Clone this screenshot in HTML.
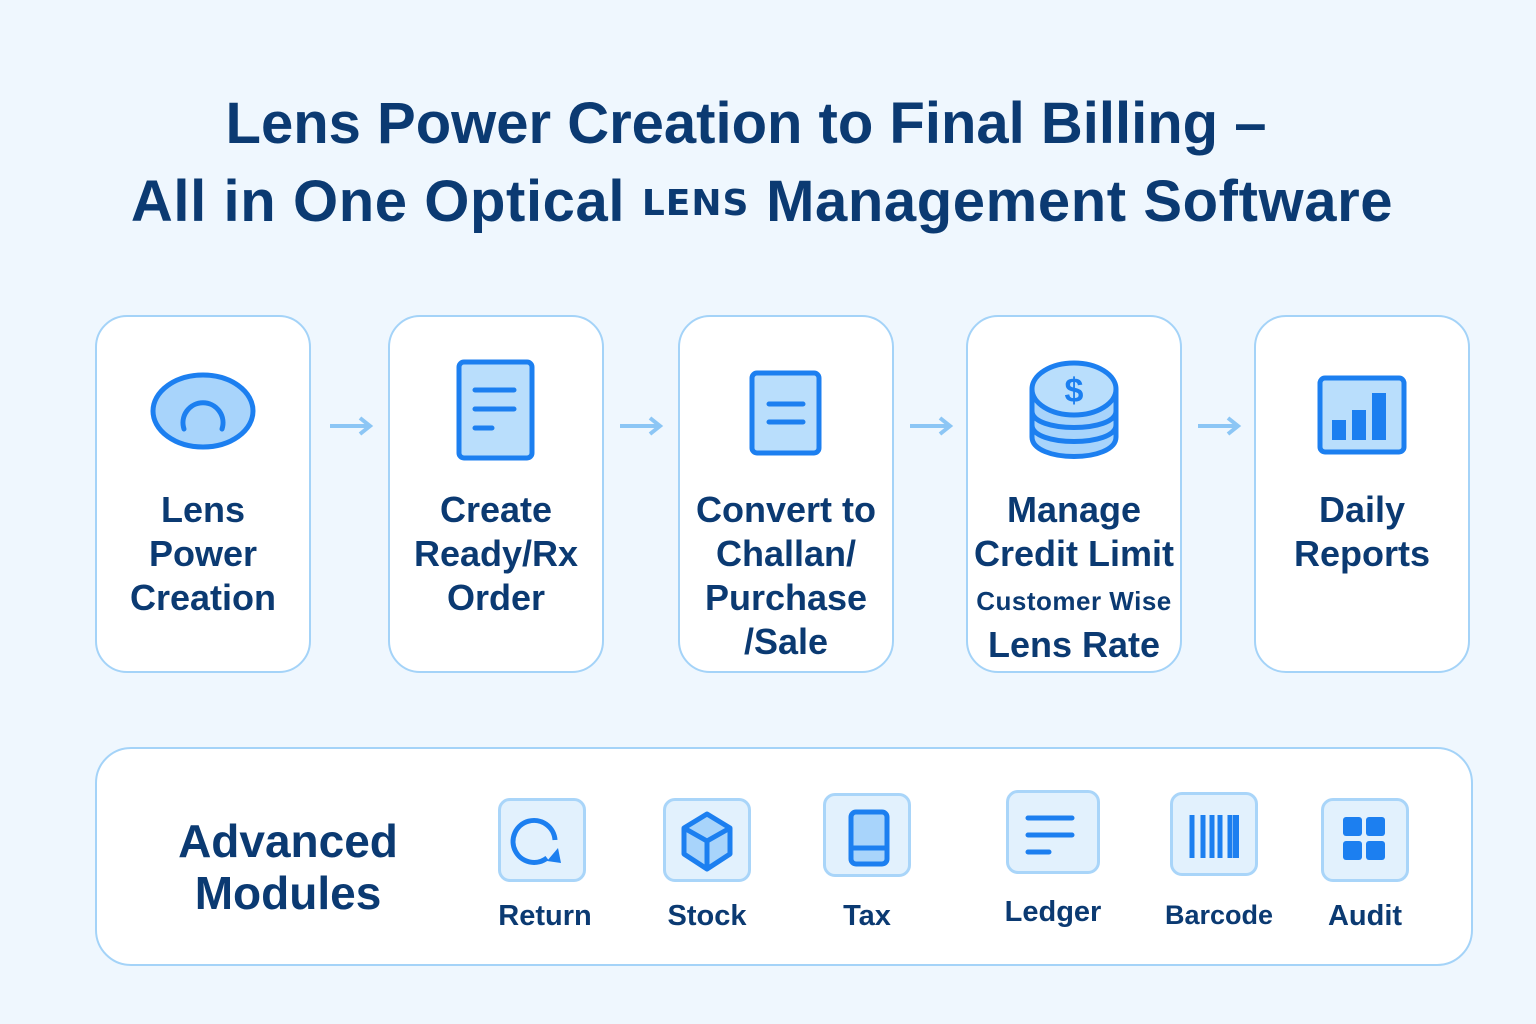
<!DOCTYPE html>
<html><head><meta charset="utf-8"><style>
body{margin:0;width:1536px;height:1024px;background:#eff7fe;font-family:"Liberation Sans",sans-serif;position:relative;overflow:hidden;color:#0b3a72}
.t{position:absolute;left:0;width:1536px;text-align:center;font-weight:bold;font-size:58px;letter-spacing:0px}
.card{position:absolute;top:315px;width:216px;height:358px;background:#fff;border:2px solid #a4d3f8;border-radius:32px;box-sizing:border-box}
.ct{position:absolute;left:0;right:0;top:172px;text-align:center;font-weight:bold;font-size:36px;line-height:44px}
.ic{position:absolute;left:0;right:0;top:40px;text-align:center}
.arr{position:absolute;top:415px}
.panel{position:absolute;left:95px;top:747px;width:1378px;height:219px;background:#fff;border:2px solid #a4d3f8;border-radius:36px;box-sizing:border-box}
.mb{position:absolute;width:88px;height:84px;background:#e2f1fd;border:3px solid #a9d5f9;border-radius:12px;box-sizing:border-box}
.ml{position:absolute;width:140px;text-align:center;font-size:29px;font-weight:bold;top:900px}
</style></head><body>
<div class="t" style="top:90px;left:-22px">Lens Power Creation to Final Billing –</div>
<div class="t" style="top:168px;letter-spacing:0.6px;left:-6px">All in One Optical <span style="font-size:36px;letter-spacing:1px;vertical-align:6px;font-family:'DejaVu Sans',sans-serif">LENS</span> Management Software</div>

<div class="card" style="left:95px"><div class="ic" style="top:52px"><svg width="110" height="84" viewBox="0 0 110 84"><ellipse cx="55" cy="42" rx="50" ry="36" fill="#a8d4fb" stroke="#1c7ff0" stroke-width="5"/><path d="M36 60 A20 20 0 1 1 74 60" fill="none" stroke="#1c7ff0" stroke-width="5" stroke-linecap="round"/></svg></div>
<div class="ct" style="top:171px">Lens<br>Power<br>Creation</div></div>
<svg class="arr" style="left:328px" width="46" height="22"><path d="M2 11H42M32 3L42 11L32 19" fill="none" stroke="#8cc6f5" stroke-width="4"/></svg>

<div class="card" style="left:388px"><div class="ic" style="top:42px"><svg width="80" height="102"><rect x="3" y="3" width="73" height="96" rx="5" fill="#b9defc" stroke="#1c7ff0" stroke-width="5"/><path d="M19 31H58M19 50H58M19 69H36" stroke="#1c7ff0" stroke-width="5" stroke-linecap="round"/></svg></div>
<div class="ct" style="top:171px">Create<br>Ready/Rx<br>Order</div></div>
<svg class="arr" style="left:618px" width="46" height="22"><path d="M2 11H42M32 3L42 11L32 19" fill="none" stroke="#8cc6f5" stroke-width="4"/></svg>

<div class="card" style="left:678px"><div class="ic" style="top:53px"><svg width="74" height="86"><rect x="3" y="3" width="67" height="80" rx="5" fill="#b9defc" stroke="#1c7ff0" stroke-width="5"/><path d="M20 34H54M20 52H54" stroke="#1c7ff0" stroke-width="5" stroke-linecap="round"/></svg></div>
<div class="ct" style="top:171px">Convert to<br>Challan/<br>Purchase<br>/Sale</div></div>
<svg class="arr" style="left:908px" width="46" height="22"><path d="M2 11H42M32 3L42 11L32 19" fill="none" stroke="#8cc6f5" stroke-width="4"/></svg>

<div class="card" style="left:966px"><div class="ic" style="top:42px"><svg width="94" height="104"><path d="M5 30V78C5 104 89 104 89 78V30" fill="#a8d4fb" stroke="#1c7ff0" stroke-width="5"/><path d="M5 52C5 74 89 74 89 52" fill="none" stroke="#1c7ff0" stroke-width="5"/><path d="M5 66C5 88 89 88 89 66" fill="none" stroke="#1c7ff0" stroke-width="5"/><ellipse cx="47" cy="30" rx="42" ry="26" fill="#b9defc" stroke="#1c7ff0" stroke-width="5"/><text x="47" y="43" text-anchor="middle" font-size="34" font-weight="bold" fill="#1c7ff0" font-family="Liberation Sans">$</text></svg></div>
<div class="ct" style="top:171px">Manage<br>Credit Limit<br><span style="font-size:26px;letter-spacing:0.5px;line-height:44px">Customer Wise</span><br>Lens Rate</div></div>
<svg class="arr" style="left:1196px" width="46" height="22"><path d="M2 11H42M32 3L42 11L32 19" fill="none" stroke="#8cc6f5" stroke-width="4"/></svg>

<div class="card" style="left:1254px"><div class="ic" style="top:58px"><svg width="90" height="80"><rect x="3" y="3" width="84" height="74" rx="5" fill="#b9defc" stroke="#1c7ff0" stroke-width="5"/><rect x="15" y="45" width="14" height="20" fill="#1c7ff0"/><rect x="35" y="35" width="14" height="30" fill="#1c7ff0"/><rect x="55" y="18" width="14" height="47" fill="#1c7ff0"/></svg></div>
<div class="ct" style="top:171px">Daily<br>Reports</div></div>

<div class="panel"></div>
<div style="position:absolute;left:138px;width:300px;top:815px;text-align:center;font-weight:bold;font-size:46px;line-height:52px">Advanced<br>Modules</div>

<div class="mb" style="left:498px;top:798px"><svg width="82" height="78"><path d="M52 58 A21 21 0 1 1 60 40" fill="none" stroke="#1c7ff0" stroke-width="5" transform="translate(-6,-1)"/><path d="M46 60 L60 62 L57 47 Z" fill="#1c7ff0"/></svg></div>
<div class="mb" style="left:663px;top:798px"><svg width="82" height="78"><path d="M41 13L64 27V53L41 68L18 53V27Z" fill="#a8d4fb" stroke="#1c7ff0" stroke-width="5" stroke-linejoin="round"/><path d="M18 27L41 40L64 27M41 40V68" fill="none" stroke="#1c7ff0" stroke-width="5"/></svg></div>
<div class="mb" style="left:823px;top:793px"><svg width="82" height="78"><rect x="25" y="16" width="36" height="52" rx="5" fill="#a8d4fb" stroke="#1c7ff0" stroke-width="5"/><path d="M25 52H61" stroke="#1c7ff0" stroke-width="5"/></svg></div>
<div class="mb" style="left:1006px;top:790px;width:94px"><svg width="88" height="78"><path d="M19 25H63M19 42H63M19 59H40" stroke="#1c7ff0" stroke-width="5" stroke-linecap="round"/></svg></div>
<div class="mb" style="left:1170px;top:792px"><svg width="82" height="78"><path d="M19 20V63M30 20V63M39 20V63M47 20V63M57 20V63" stroke="#1c7ff0" stroke-width="5"/><rect x="60" y="20" width="6" height="43" fill="#1c7ff0"/></svg></div>
<div class="mb" style="left:1321px;top:798px"><svg width="82" height="78"><rect x="19" y="16" width="19" height="19" rx="3" fill="#1c7ff0"/><rect x="42" y="16" width="19" height="19" rx="3" fill="#1c7ff0"/><rect x="19" y="40" width="19" height="19" rx="3" fill="#1c7ff0"/><rect x="42" y="40" width="19" height="19" rx="3" fill="#1c7ff0"/></svg></div>

<div class="ml" style="left:475px">Return</div>
<div class="ml" style="left:637px">Stock</div>
<div class="ml" style="left:797px">Tax</div>
<div class="ml" style="left:983px;top:896px">Ledger</div>
<div class="ml" style="left:1149px;font-size:27px">Barcode</div>
<div class="ml" style="left:1295px">Audit</div>
</body></html>
